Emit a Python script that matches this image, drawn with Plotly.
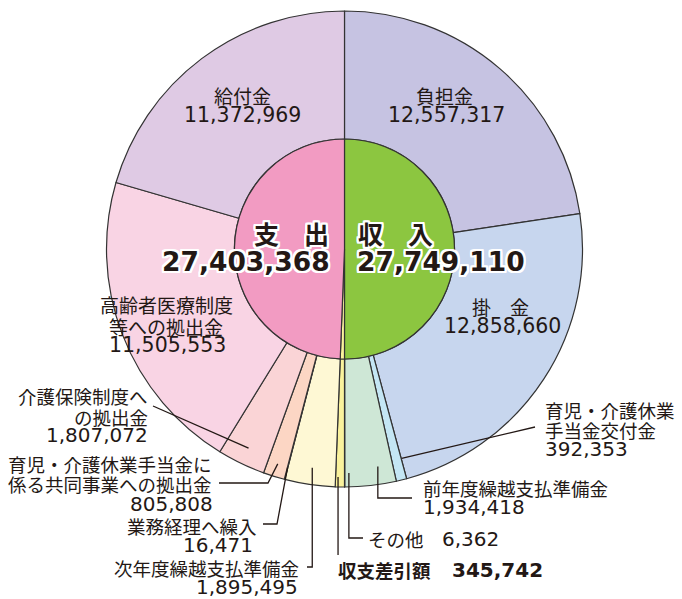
import math
import plotly.graph_objects as go

# ---------------- data ----------------
income_labels = ["負担金", "掛金", "育児・介護休業手当金交付金", "前年度繰越支払準備金", "その他"]
income_values = [12557317, 12858660, 392353, 1934418, 6362]
expense_labels = ["収支差引額", "次年度繰越支払準備金", "業務経理へ繰入",
                  "育児・介護休業手当金に係る共同事業への拠出金", "介護保険制度への拠出金",
                  "高齢者医療制度等への拠出金", "給付金"]
expense_values = [345742, 1895495, 16471, 805808, 1807072, 11505553, 11372969]
income_total = 27749110
expense_total = 27403368
balance = 345742

income_colors = ["#c6c3e2", "#c7d6ee", "#c4e6f4", "#cee7d6", "#6d6d6d"]
expense_colors = ["#faf29c", "#fef8d4", "#fde0c8", "#fcd6c4", "#fad4d6", "#f9d4e4", "#dfcae4"]

W, H = 682, 599
CX, CY = 344.5, 249.0
R_OUT, R_IN = 238.0, 110.0


def px(x, y):
    return x / W, 1 - y / H


outer_labels = income_labels + expense_labels
outer_values = income_values + expense_values
outer_colors = income_colors + expense_colors
grand = sum(outer_values)

# slice middle angles (clockwise from 12 o'clock)
mid = {}
acc = 0.0
for lab, v in zip(outer_labels, outer_values):
    a = v / grand * 360
    mid[lab] = acc + a / 2
    acc += a


def slice_pt(label, r, dang=0.0):
    t = math.radians(mid[label] + dang)
    return CX + r * math.sin(t), CY - r * math.cos(t)


fig = go.Figure()
fig.add_trace(go.Pie(
    labels=outer_labels, values=outer_values, sort=False, direction="clockwise",
    rotation=0, hole=R_IN / R_OUT, textinfo="none", hoverinfo="skip",
    marker=dict(colors=outer_colors, line=dict(color="#333333", width=1.2)),
    domain=dict(x=[(CX - R_OUT) / W, (CX + R_OUT) / W],
                y=[1 - (CY + R_OUT) / H, 1 - (CY - R_OUT) / H]),
    showlegend=False,
))
fig.add_trace(go.Pie(
    labels=["収入", "収支差引額 ", "支出"], values=[income_total, balance, expense_total],
    sort=False, direction="clockwise", rotation=0, textinfo="none", hoverinfo="skip",
    marker=dict(colors=["#8cc640", "#faf29c", "#f29bc2"], line=dict(color="#333333", width=1.2)),
    domain=dict(x=[(CX - R_IN) / W, (CX + R_IN) / W],
                y=[1 - (CY + R_IN) / H, 1 - (CY - R_IN) / H]),
    showlegend=False,
))

CJK = "Noto Sans CJK JP"
NUM = "DejaVu Sans, Noto Sans CJK JP"
OUTLINE = ", ".join(f"{dx}px {dy}px 0 #fff" for dx in (-2, -1, 0, 1, 2) for dy in (-2, -1, 0, 1, 2))

anns = []


def ann(text, x, y, anchor="center", size=18.5, family=CJK, weight="normal", shadow=None):
    xx, yy = px(x, y)
    font = dict(size=size, family=family, color="#231815", weight=weight)
    if shadow:
        font["shadow"] = shadow
    anns.append(dict(text=text, x=xx, y=yy, xref="paper", yref="paper", xanchor=anchor,
                     yanchor="middle", showarrow=False, font=font, borderpad=0))


def fmt(v):
    return f"{v:,}"


# inside labels
ann("給付金", 242, 95, size=19)
ann(fmt(expense_values[6]), 242, 114.5, size=20.5, family=NUM)
ann("負担金", 444, 95, size=19)
ann(fmt(income_values[0]), 446, 114.5, size=20.5, family=NUM)
ann("掛　金", 500, 307, size=19)
ann(fmt(income_values[1]), 502, 326, size=20.5, family=NUM)
ann("高齢者医療制度", 166, 304, size=19)
ann("等への拠出金", 166, 326, size=19)
ann(fmt(expense_values[5]), 167, 345, size=20.5, family=NUM)

# centre labels
ann("支　出", 291, 233, size=25, weight="bold", shadow=OUTLINE)
ann(fmt(expense_total), 331, 261, anchor="right", size=26.5, family=NUM, weight="bold", shadow=OUTLINE)
ann("収　入", 395, 233, size=25, weight="bold", shadow=OUTLINE)
ann(fmt(income_total), 356, 261, anchor="left", size=26.5, family=NUM, weight="bold", shadow=OUTLINE)

# outside labels
ann("介護保険制度へ", 149, 396, anchor="right")
ann("の拠出金", 149, 416.5, anchor="right")
ann(fmt(expense_values[4]), 149, 435, anchor="right", size=20, family=NUM)

ann("育児・介護休業手当金に", 213, 464, anchor="right")
ann("係る共同事業への拠出金", 213, 484, anchor="right")
ann(fmt(expense_values[3]), 214, 504, anchor="right", size=20, family=NUM)

ann("業務経理へ繰入", 258, 525.5, anchor="right")
ann(fmt(expense_values[2]), 254, 545, anchor="right", size=20, family=NUM)

ann("次年度繰越支払準備金", 300, 567.5, anchor="right")
ann(fmt(expense_values[1]), 299, 587, anchor="right", size=20, family=NUM)

ann("収支差引額", 337, 570, anchor="left", weight="bold")
ann(fmt(balance), 451, 570, anchor="left", size=20, family=NUM, weight="bold")

ann("その他", 367, 539, anchor="left")
ann(fmt(income_values[4]), 441, 539, anchor="left", size=20, family=NUM)

ann("前年度繰越支払準備金", 422, 487.5, anchor="left")
ann(fmt(income_values[3]), 422, 507, anchor="left", size=20, family=NUM)

ann("育児・介護休業", 544, 409.5, anchor="left")
ann("手当金交付金", 544, 429.5, anchor="left")
ann(fmt(income_values[2]), 544, 449, anchor="left", size=20, family=NUM)

# leader lines
shapes = []


def leader(points):
    d = ""
    for i, (x, y) in enumerate(points):
        xx, yy = px(x, y)
        d += ("M" if i == 0 else " L") + f" {xx:.5f},{yy:.5f}"
    shapes.append(dict(type="path", path=d, xref="paper", yref="paper",
                       line=dict(color="#231815", width=1.3)))


p = slice_pt("介護保険制度への拠出金", 221)
leader([(153, 406), p])
p = slice_pt("育児・介護休業手当金に係る共同事業への拠出金", 225)
leader([(219, 483), (268, 483), p])
p = slice_pt("業務経理へ繰入", 226)
leader([(263, 524), (277, 524), p])
p = slice_pt("次年度繰越支払準備金", 221)
leader([(307, 567), (p[0], 567), p])
p = slice_pt("収支差引額", 228, 0.5)
leader([(p[0], 555), p])
p = slice_pt("その他", 224, -1.1)
leader([(363, 538), (p[0], 538), p])
p = slice_pt("前年度繰越支払準備金", 220, -2.4)
leader([(412, 498), (p[0], 498), p])
p = slice_pt("育児・介護休業手当金交付金", 217, -1.4)
leader([(535, 427), p])

fig.update_layout(
    width=W, height=H, margin=dict(l=0, r=0, t=0, b=0),
    paper_bgcolor="white", plot_bgcolor="white",
    annotations=anns, shapes=shapes,
)

fig.write_html(
    "out.html",
    config={"displayModeBar": False},
    post_script="document.body.style.margin='0';document.body.style.overflow='hidden';",
)
